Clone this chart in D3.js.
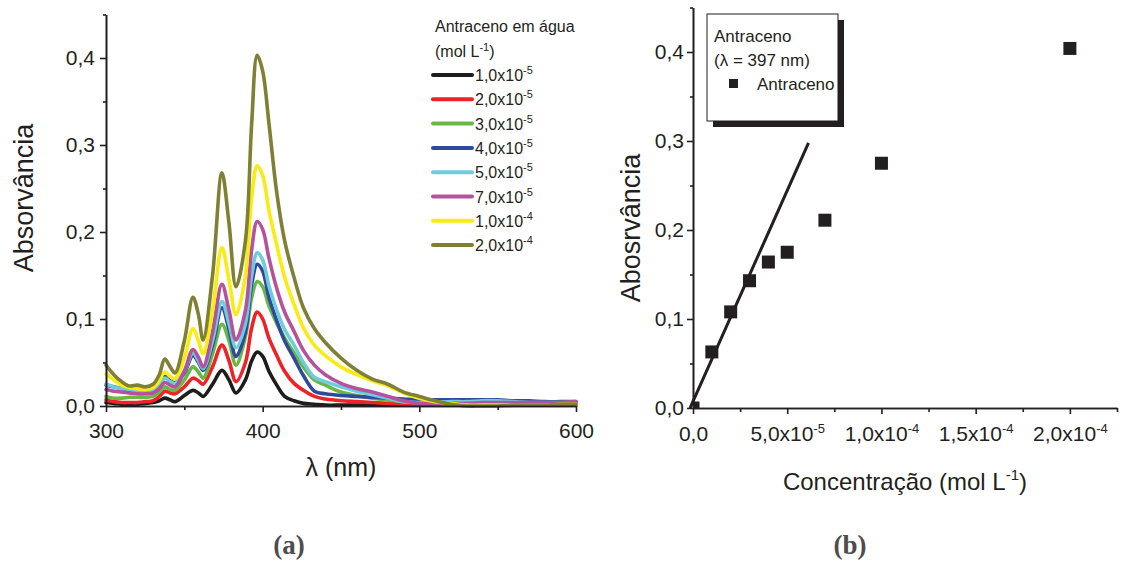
<!DOCTYPE html>
<html><head><meta charset="utf-8">
<script src="https://cdn.jsdelivr.net/npm/d3@7"></script>
<style>
body{margin:0;background:#fff;}
svg{display:block;font-family:"Liberation Sans",Arial,sans-serif;}
</style></head><body>
<svg id="fig" width="1122" height="563"></svg>
<script>
// ---------- data: absorption spectra of anthracene in water ----------
const wavelengths = [300,305,310,315,320,325,330,334,337.5,341,344,350,355.5,359,362,368,374,378.5,383,389,393,396.5,400,404,409,414,420,426,433,440,450,460,470,480,490,500,510,520,530,540,550,560,570,580,590,600];

const abs1e5 = [.004,.003,.002,.002,.002,.003,.004,.006,.009,.007,.005,.012,.018,.015,.011,.025,.041,.030,.015,.030,.052,.062,.057,.040,.024,.011,.006,.003,.002,.001,.001,.001,.001,.001,.001,.001,.001,.001,.001,.001,.001,.001,.001,.001,.001,.001];
const abs2e5 = [.007,.005,.004,.004,.004,.005,.006,.011,.017,.015,.014,.022,.032,.029,.025,.045,.070,.052,.028,.050,.090,.108,.100,.078,.058,.040,.026,.018,.011,.008,.006,.005,.004,.003,.002,.002,.002,.002,.002,.002,.002,.002,.002,.002,.002,.002];
const abs3e5 = [.011,.009,.009,.010,.010,.010,.011,.016,.022,.019,.018,.030,.045,.039,.032,.060,.094,.075,.047,.080,.125,.143,.137,.115,.095,.078,.061,.045,.030,.024,.016,.012,.009,.007,.005,.004,.003,.003,.003,.003,.003,.003,.003,.003,.003,.003];
const abs4e5 = [.024,.022,.020,.018,.017,.016,.018,.026,.034,.029,.027,.038,.058,.050,.041,.070,.113,.088,.057,.085,.140,.163,.155,.125,.098,.075,.055,.035,.017,.014,.012,.011,.010,.009,.008,.007,.007,.007,.007,.007,.007,.006,.006,.005,.005,.005];
const abs5e5 = [.025,.022,.020,.019,.017,.017,.018,.024,.032,.028,.026,.040,.061,.052,.043,.075,.120,.095,.067,.095,.150,.176,.168,.138,.110,.088,.070,.050,.033,.028,.022,.017,.013,.009,.005,.004,.004,.005,.005,.006,.006,.005,.004,.004,.004,.004];
const abs7e5 = [.019,.017,.016,.015,.014,.014,.015,.020,.027,.024,.022,.040,.065,.056,.045,.085,.140,.110,.076,.110,.180,.212,.203,.170,.135,.108,.086,.064,.047,.036,.026,.020,.016,.011,.006,.003,.003,.003,.003,.004,.004,.004,.004,.004,.004,.005];
const abs1e4 = [.037,.030,.024,.021,.020,.019,.021,.029,.039,.034,.031,.055,.089,.075,.060,.110,.182,.145,.105,.150,.240,.276,.265,.225,.185,.148,.117,.090,.070,.058,.045,.036,.029,.023,.015,.009,.005,.003,.001,.001,.001,.001,.001,.001,.002,.002];
const abs2e4 = [.047,.036,.028,.023,.024,.022,.025,.036,.054,.045,.038,.075,.125,.105,.076,.150,.268,.210,.137,.190,.325,.403,.385,.325,.245,.190,.148,.113,.089,.073,.055,.041,.031,.025,.016,.011,.006,.002,.000,.000,.000,.001,.001,.001,.002,.002];

const seriesMantissa = ["1,0x10","2,0x10","3,0x10","4,0x10","5,0x10","7,0x10","1,0x10","2,0x10"];
const seriesExponent = ["-5","-5","-5","-5","-5","-5","-4","-4"];
const seriesColors = ["#1d1d1b","#ec2327","#6ab745","#2f4a9a","#6fcbdd","#b3529d","#f7ec13","#808035"];
const seriesValues = [abs1e5,abs2e5,abs3e5,abs4e5,abs5e5,abs7e5,abs1e4,abs2e4];

// ---------- data: calibration at 397 nm ----------
const concentrations = [0,1e-5,2e-5,3e-5,4e-5,5e-5,7e-5,1e-4,2e-4];
const absorbance397 = [0,0.063,0.108,0.143,0.164,0.175,0.211,0.275,0.404];
const fitPointCount = 4;            // linear region used for the fit
const fitSpan = [-1.6e-6, 6.13e-5]; // x extent of the drawn fit line

// tick values
const yTicksMajor = [0,0.1,0.2,0.3,0.4];
const yTicksMinor = [0.05,0.15,0.25,0.35,0.45];
const lambdaTicksMajor = [300,400,500,600];
const lambdaTicksMinor = [350,450,550];
const concTicksMajor = [0,5e-5,1e-4,1.5e-4,2e-4];
const concTicksMinor = [2.5e-5,7.5e-5,1.25e-4,1.75e-4,2.25e-4];
const concTickMantissa = ["0,0","5,0x10","1,0x10","1,5x10","2,0x10"];
const concTickExponent = ["","-5","-4","-4","-4"];

// ---------- drawing ----------
const ink = "#231f20";
const svg = d3.select("#fig");
const dec = v => d3.format(".1f")(v).replace(".", ",");

function styleAxis(g, fontSize) {
  g.select(".domain").attr("stroke", ink).attr("stroke-width", 1.6);
  g.selectAll(".tick line").attr("stroke", ink).attr("stroke-width", 1.6);
  g.selectAll(".tick text").attr("fill", ink).style("font-size", fontSize + "px")
    .style("font-family", '"Liberation Sans",Arial,sans-serif');
}

/* ---- panel (a): spectra ---- */
const xA = d3.scaleLinear().domain([300,600]).range([106,576]);
const yA = d3.scaleLinear().domain([0,0.45]).range([406,14.5]);
const gA = svg.append("g");

const line = (vals) => d3.line().curve(d3.curveCatmullRom.alpha(0.5))
  .x((d,i) => xA(wavelengths[i])).y(d => yA(d))(vals);

seriesValues.forEach((vals, k) => {
  gA.append("path").attr("d", line(vals)).attr("fill","none")
    .attr("stroke", seriesColors[k]).attr("stroke-width", 3.6)
    .attr("stroke-linejoin","round").attr("stroke-linecap","round");
});

gA.append("g").attr("transform","translate(106,0)")
  .call(d3.axisLeft(yA).tickValues(yTicksMinor).tickSize(3).tickSizeOuter(0).tickFormat(""))
  .call(g => styleAxis(g, 21));
gA.append("g").attr("transform","translate(106,0)")
  .call(d3.axisLeft(yA).tickValues(yTicksMajor).tickSize(6).tickSizeOuter(0).tickPadding(5).tickFormat(dec))
  .call(g => styleAxis(g, 21));
gA.append("g").attr("transform","translate(0,406)")
  .call(d3.axisBottom(xA).tickValues(lambdaTicksMinor).tickSize(4).tickSizeOuter(0).tickFormat(""))
  .call(g => styleAxis(g, 21));
gA.append("g").attr("transform","translate(0,406)")
  .call(d3.axisBottom(xA).tickValues(lambdaTicksMajor).tickSize(6).tickSizeOuter(0).tickPadding(11).tickFormat(d3.format("d")))
  .call(g => styleAxis(g, 21));

gA.append("text").attr("transform","translate(33,198) rotate(-90)")
  .attr("text-anchor","middle").attr("fill",ink).style("font-size","27px").text("Absorvância");
gA.append("text").attr("x",341).attr("y",476)
  .attr("text-anchor","middle").attr("fill",ink).style("font-size","25px").text("λ (nm)");

// legend (a)
const legA = gA.append("g").attr("transform","translate(435,0)");
legA.append("text").attr("x",0).attr("y",32).attr("fill",ink).style("font-size","16px").text("Antraceno em água");
const unitA = legA.append("text").attr("x",0).attr("y",57).attr("fill",ink).style("font-size","16px");
unitA.append("tspan").text("(mol L");
unitA.append("tspan").attr("dy",-6).style("font-size","11px").text("-1");
unitA.append("tspan").attr("dy",6).text(")");
seriesValues.forEach((vals, k) => {
  const y = 75 + k * 24.3;
  legA.append("line").attr("x1",-2).attr("x2",37).attr("y1",y).attr("y2",y)
    .attr("stroke",seriesColors[k]).attr("stroke-width",4).attr("stroke-linecap","round");
  const t = legA.append("text").attr("x",40).attr("y",y+6).attr("fill",ink).style("font-size","16px");
  t.append("tspan").text(seriesMantissa[k]);
  t.append("tspan").attr("dy",-7).style("font-size","11px").text(seriesExponent[k]);
});

/* ---- panel (b): calibration ---- */
const xB = d3.scaleLinear().domain([0,2.25e-4]).range([693,1117]);
const yB = d3.scaleLinear().domain([0,0.45]).range([408,7.5]);
const gB = svg.append("g");

gB.append("clipPath").attr("id","clipB").append("rect")
  .attr("x",693).attr("y",0).attr("width",440).attr("height",408);

// least-squares line over the linear region
const fx = concentrations.slice(0, fitPointCount), fy = absorbance397.slice(0, fitPointCount);
const mx = d3.mean(fx), my = d3.mean(fy);
const slope = d3.sum(fx, (x,i) => (x-mx)*(fy[i]-my)) / d3.sum(fx, x => (x-mx)*(x-mx));
const intercept = my - slope * mx;
gB.append("line")
  .attr("x1", xB(fitSpan[0])).attr("y1", yB(intercept + slope*fitSpan[0]))
  .attr("x2", xB(fitSpan[1])).attr("y2", yB(intercept + slope*fitSpan[1]))
  .attr("stroke", ink).attr("stroke-width", 3);

const sq = 13;
gB.append("g").attr("clip-path","url(#clipB)").selectAll("rect").data(concentrations).join("rect")
  .attr("x", d => xB(d) - sq/2).attr("y", (d,i) => yB(absorbance397[i]) - sq/2)
  .attr("width", sq).attr("height", sq).attr("fill", ink);

gB.append("g").attr("transform","translate(693,0)")
  .call(d3.axisLeft(yB).tickValues(yTicksMinor).tickSize(3).tickSizeOuter(0).tickFormat(""))
  .call(g => styleAxis(g, 21));
gB.append("g").attr("transform","translate(693,0)")
  .call(d3.axisLeft(yB).tickValues(yTicksMajor).tickSize(6).tickSizeOuter(0).tickPadding(3).tickFormat(dec))
  .call(g => styleAxis(g, 21));
gB.append("g").attr("transform","translate(0,408)")
  .call(d3.axisBottom(xB).tickValues(concTicksMinor).tickSize(4).tickSizeOuter(0).tickFormat(""))
  .call(g => styleAxis(g, 21));
const xAxisB = gB.append("g").attr("transform","translate(0,408)")
  .call(d3.axisBottom(xB).tickValues(concTicksMajor).tickSize(6).tickSizeOuter(0).tickPadding(12).tickFormat(""))
  .call(g => styleAxis(g, 21));
xAxisB.selectAll(".tick text").each(function(d, i) {
  const t = d3.select(this).text(null);
  t.append("tspan").text(concTickMantissa[i]);
  if (concTickExponent[i]) t.append("tspan").attr("dy",-8).style("font-size","13px").text(concTickExponent[i]);
});

gB.append("text").attr("transform","translate(640,228) rotate(-90)")
  .attr("text-anchor","middle").attr("fill",ink).style("font-size","27px").text("Abosrvância");
const xtB = gB.append("text").attr("x",905).attr("y",490)
  .attr("text-anchor","middle").attr("fill",ink).style("font-size","24px");
xtB.append("tspan").text("Concentração (mol L");
xtB.append("tspan").attr("dy",-10).style("font-size","15px").text("-1");
xtB.append("tspan").attr("dy",10).text(")");

// legend (b)
const legB = gB.append("g");
legB.append("rect").attr("x",713).attr("y",20).attr("width",131).attr("height",107).attr("fill",ink);
legB.append("rect").attr("x",707).attr("y",14).attr("width",131).attr("height",107)
  .attr("fill","#fff").attr("stroke",ink).attr("stroke-width",1);
legB.append("text").attr("x",714).attr("y",42).attr("fill",ink).style("font-size","17px").text("Antraceno");
legB.append("text").attr("x",714).attr("y",66).attr("fill",ink).style("font-size","17px").text("(λ = 397 nm)");
legB.append("rect").attr("x",729).attr("y",79).attr("width",9).attr("height",9).attr("fill",ink);
legB.append("text").attr("x",757).attr("y",90).attr("fill",ink).style("font-size","17px").text("Antraceno");

/* ---- panel captions ---- */
svg.append("text").attr("x",289).attr("y",554).attr("text-anchor","middle")
  .attr("fill","#4d4d4d").style("font-family",'"Liberation Serif","Times New Roman",serif')
  .style("font-weight","bold").style("font-size","27px").text("(a)");
svg.append("text").attr("x",850).attr("y",554).attr("text-anchor","middle")
  .attr("fill","#4d4d4d").style("font-family",'"Liberation Serif","Times New Roman",serif')
  .style("font-weight","bold").style("font-size","27px").text("(b)");
</script>
</body></html>
